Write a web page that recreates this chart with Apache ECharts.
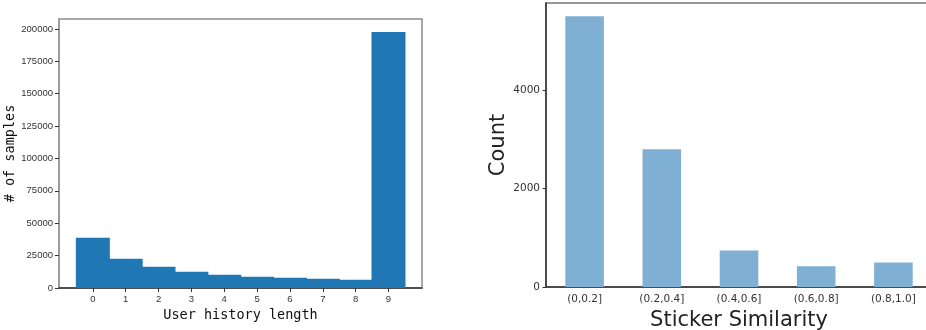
<!DOCTYPE html>
<html>
<head>
<meta charset="utf-8">
<script src="https://cdn.jsdelivr.net/npm/echarts@6/dist/echarts.min.js"></script>
<style>
  html, body { margin: 0; padding: 0; background: #fff; }
  #main { width: 926px; height: 330px; }
</style>
</head>
<body>
<div id="main"></div>
<script>
// left panel: user history length histogram
var historyLength = [0, 1, 2, 3, 4, 5, 6, 7, 8, 9];
var sampleCounts = [38800, 22600, 16400, 12600, 10300, 8700, 7900, 7200, 6400, 197700];
var leftYTicks = [0, 25000, 50000, 75000, 100000, 125000, 150000, 175000, 200000];

// right panel: sticker similarity counts
var simBins = ['(0,0.2]', '(0.2,0.4]', '(0.4,0.6]', '(0.6,0.8]', '(0.8,1.0]'];
var simCounts = [5510, 2800, 745, 420, 500];
var rightYTicks = [0, 2000, 4000];

var chart = echarts.init(document.getElementById('main'));

var tickColor = '#333';
var plain = function (v) { return String(v); };

chart.setOption({
  animation: false,
  grid: [
    { left: 59, top: 19, width: 363, height: 269, show: true, borderColor: '#8c8c8c', borderWidth: 1.5,
      containLabel: false, outerBoundsMode: 'none' },
    { left: 546, top: 3, width: 386, height: 284, show: true, borderColor: '#777', borderWidth: 1.5,
      containLabel: false, outerBoundsMode: 'none' }
  ],
  xAxis: [
    {
      gridIndex: 0, type: 'value', min: -1.03, max: 10.02,
      name: 'User history length', nameLocation: 'middle', nameGap: 20,
      nameTextStyle: { fontFamily: 'DejaVu Sans Mono', fontSize: 13.5, color: '#111' },
      axisLine: { onZero: false, lineStyle: { color: '#333', width: 1.5 } },
      axisTick: { length: 4, lineStyle: { color: tickColor }, customValues: historyLength },
      axisLabel: { customValues: historyLength, formatter: plain, fontFamily: 'Liberation Sans', fontSize: 9.5, color: '#333', margin: 6 },
      splitLine: { show: false }
    },
    {
      gridIndex: 1, type: 'category', data: simBins,
      name: 'Sticker Similarity', nameLocation: 'middle', nameGap: 22,
      nameTextStyle: { fontFamily: 'DejaVu Sans', fontSize: 21, color: '#222' },
      axisLine: { onZero: false, lineStyle: { color: '#333', width: 1.5 } },
      axisTick: { alignWithLabel: true, length: 3.5, lineStyle: { color: tickColor } },
      axisLabel: { fontFamily: 'DejaVu Sans', fontSize: 10.5, color: '#333', margin: 7 }
    }
  ],
  yAxis: [
    {
      gridIndex: 0, type: 'value', min: 0, max: 207700,
      name: '# of samples', nameLocation: 'middle', nameGap: 39,
      nameTextStyle: { fontFamily: 'DejaVu Sans Mono', fontSize: 13.5, color: '#111' },
      axisLine: { show: true, onZero: false, lineStyle: { color: '#999', width: 1.5 } },
      axisTick: { show: true, length: 4, lineStyle: { color: tickColor }, customValues: leftYTicks },
      axisLabel: { customValues: leftYTicks, formatter: plain, fontFamily: 'Liberation Sans', fontSize: 9.5, color: '#333', margin: 6 },
      splitLine: { show: false }
    },
    {
      gridIndex: 1, type: 'value', min: 0, max: 5778,
      name: 'Count', nameLocation: 'middle', nameGap: 37,
      nameTextStyle: { fontFamily: 'DejaVu Sans', fontSize: 21, color: '#222' },
      axisLine: { show: true, onZero: false, lineStyle: { color: '#333', width: 1.5 } },
      axisTick: { show: true, length: 3.5, lineStyle: { color: tickColor }, customValues: rightYTicks },
      axisLabel: { customValues: rightYTicks, formatter: plain, fontFamily: 'DejaVu Sans', fontSize: 10.5, color: '#333', margin: 6 },
      splitLine: { show: false }
    }
  ],
  series: [
    {
      type: 'bar', xAxisIndex: 0, yAxisIndex: 0,
      data: historyLength.map(function (h, i) { return [h, sampleCounts[i]]; }),
      barWidth: 34,
      itemStyle: { color: '#1f77b4' }
    },
    {
      type: 'bar', xAxisIndex: 1, yAxisIndex: 1,
      data: simCounts,
      barWidth: '50%',
      itemStyle: { color: '#7fb0d4' }
    }
  ]
});
</script>
</body>
</html>
